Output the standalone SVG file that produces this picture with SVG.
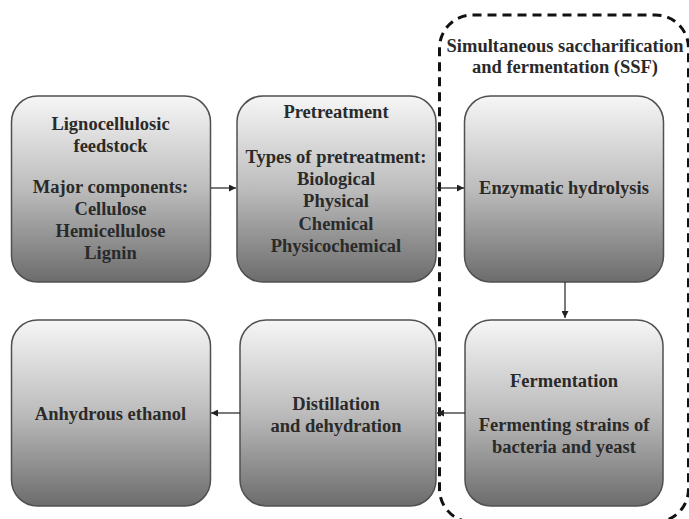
<svg xmlns="http://www.w3.org/2000/svg" width="689" height="519" viewBox="0 0 689 519">
<defs>
<linearGradient id="g" x1="0" y1="0" x2="0" y2="1">
<stop offset="0" stop-color="#f6f6f6"/>
<stop offset="0.5" stop-color="#bcbcbc"/>
<stop offset="1" stop-color="#6c6c6c"/>
</linearGradient>
<marker id="ah" viewBox="0 0 10 10" refX="10" refY="5" markerWidth="7" markerHeight="7" markerUnits="userSpaceOnUse" orient="auto">
<path d="M0,0 L10,5 L0,10 Z" fill="#222"/>
</marker>
<style>
.box{fill:url(#g);stroke:#505050;stroke-width:1.5}
.t{font-family:"Liberation Serif","Times New Roman",serif;font-weight:bold;font-size:18.5px;fill:#2a2a2a;text-anchor:middle}
.c{stroke:#222;stroke-width:1.2;fill:none;marker-end:url(#ah)}
.ssf{fill:none;stroke:#111;stroke-width:3;stroke-dasharray:9 6}
</style>
</defs>
<rect width="689" height="519" fill="#fff"/>
<g id="ssf">
<rect class="ssf" x="439.5" y="15" width="249" height="507" rx="33" ry="33"/>
<text class="t" x="565" y="52">Simultaneous saccharification</text>
<text class="t" x="565" y="73">and fermentation (SSF)</text>
</g>
<g id="feedstock">
<rect class="box" x="11.5" y="96" width="199" height="186" rx="26" ry="26"/>
<text class="t" x="110.5" y="130">Lignocellulosic</text>
<text class="t" x="110.5" y="151.5">feedstock</text>
<text class="t" x="110.5" y="193">Major components:</text>
<text class="t" x="110.5" y="215">Cellulose</text>
<text class="t" x="110.5" y="237">Hemicellulose</text>
<text class="t" x="110.5" y="259">Lignin</text>
</g>
<g id="pretreatment">
<rect class="box" x="237" y="96" width="199" height="186" rx="26" ry="26"/>
<text class="t" x="336" y="117.5">Pretreatment</text>
<text class="t" x="336" y="163">Types of pretreatment:</text>
<text class="t" x="336" y="185">Biological</text>
<text class="t" x="336" y="207">Physical</text>
<text class="t" x="336" y="229.5">Chemical</text>
<text class="t" x="336" y="251.5">Physicochemical</text>
</g>
<g id="hydrolysis">
<rect class="box" x="464.5" y="96" width="199" height="186" rx="26" ry="26"/>
<text class="t" x="564" y="194">Enzymatic hydrolysis</text>
</g>
<g id="fermentation">
<rect class="box" x="465" y="320" width="198" height="186" rx="26" ry="26"/>
<text class="t" x="564" y="387">Fermentation</text>
<text class="t" x="564" y="431">Fermenting strains of</text>
<text class="t" x="564" y="453">bacteria and yeast</text>
</g>
<g id="distillation">
<rect class="box" x="240" y="320" width="196" height="186" rx="26" ry="26"/>
<text class="t" x="336" y="409.5">Distillation</text>
<text class="t" x="336" y="431.5">and dehydration</text>
</g>
<g id="ethanol">
<rect class="box" x="11.5" y="320" width="199" height="186" rx="26" ry="26"/>
<text class="t" x="110.5" y="420">Anhydrous ethanol</text>
</g>
<g id="connectors">
<line class="c" x1="211" y1="188" x2="236" y2="188"/>
<line class="c" x1="437" y1="188" x2="464" y2="188"/>
<line class="c" x1="565" y1="282" x2="565" y2="318"/>
<line class="c" x1="465" y1="413" x2="437" y2="413"/>
<line class="c" x1="240" y1="413" x2="211" y2="413"/>
</g>
</svg>
